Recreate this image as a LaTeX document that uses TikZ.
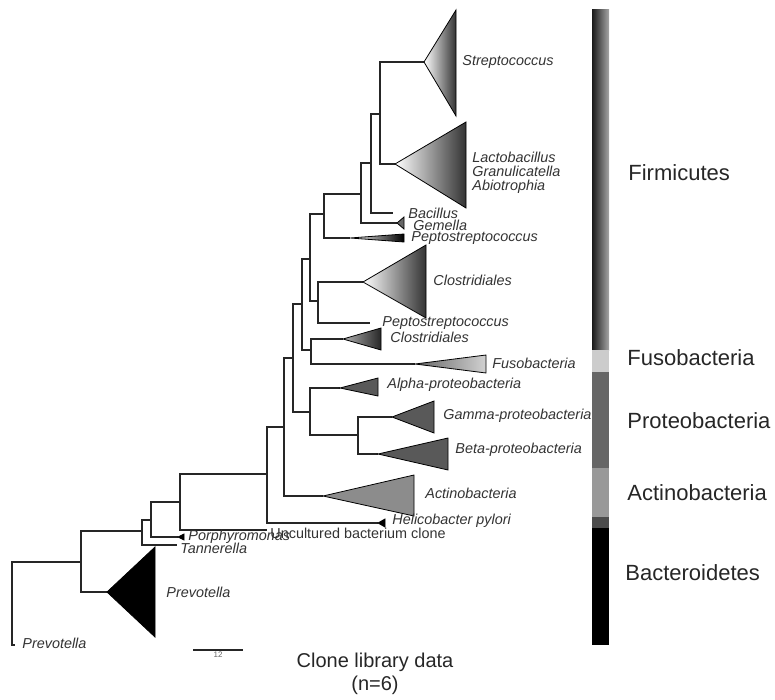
\documentclass[tikz,border=0pt]{standalone}
\usepackage{fontspec}
\setmainfont{Liberation Sans}
\usetikzlibrary{positioning}

\begin{document}
\begin{tikzpicture}[x=0.5pt,y=-0.5pt]
			\tikzstyle{Branch}	= [draw=black!85, line width=0.75pt]
			\tikzstyle{Clade}	= [draw=black, line width=0.4pt]
			\tikzstyle{Light}	= [Clade, left color=white, right color=black!80]
			\tikzstyle{Taxon}	= [anchor=west, inner sep=0pt, text=black!80, font=\fontsize{7.2}{7}\selectfont\itshape]
			\tikzstyle{Phylum}	= [anchor=west, inner sep=0pt, text=black!85, font=\fontsize{11}{13}\selectfont]

			\useasboundingbox (0,0) rectangle (775,700);

			% inner nodes of the tree
			\coordinate (root) at (12,603);
			\coordinate (nQ) at (81,562);
			\coordinate (nP) at (142,531);
			\coordinate (nO) at (151,520);
			\coordinate (nN) at (180,502);
			\coordinate (nM) at (267,474);
			\coordinate (nL) at (284,427);
			\coordinate (nK) at (293,358);
			\coordinate (nJ) at (310,412);
			\coordinate (nI) at (358,435);
			\coordinate (nH) at (302,304);
			\coordinate (nG) at (311,350);
			\coordinate (nF) at (310,259);
			\coordinate (nE) at (318,301);
			\coordinate (nD) at (324,214);
			\coordinate (nC) at (361,194);
			\coordinate (nB) at (371,163);
			\coordinate (nA) at (380,114);

			% tips
			\coordinate (strep) at (424,62);
			\coordinate (lacto) at (395,164);
			\coordinate (bacil) at (393,213);
			\coordinate (gemel) at (397,223);
			\coordinate (pepto) at (350,238);
			\coordinate (clost) at (363,282);
			\coordinate (pepcl) at (370,323);
			\coordinate (clos2) at (343,339);
			\coordinate (fuso) at (415,364);
			\coordinate (alpha) at (340,388);
			\coordinate (gamma) at (392,417);
			\coordinate (beta) at (378,454);
			\coordinate (actino) at (323,496);
			\coordinate (helico) at (378,523);
			\coordinate (uncult) at (267,530);
			\coordinate (porph) at (178,537);
			\coordinate (tanner) at (177,545);
			\coordinate (prevA) at (107,592);
			\coordinate (prevB) at (15,645);

			\draw [Branch] (root) |- (nQ);
			\draw [Branch] (root) |- (prevB);
			\draw [Branch] (nQ) |- (nP);
			\draw [Branch] (nQ) |- (prevA);
			\draw [Branch] (nP) |- (nO);
			\draw [Branch] (nP) |- (tanner);
			\draw [Branch] (nO) |- (nN);
			\draw [Branch] (nO) |- (porph);
			\draw [Branch] (nN) |- (nM);
			\draw [Branch] (nN) |- (uncult);
			\draw [Branch] (nM) |- (nL);
			\draw [Branch] (nM) |- (helico);
			\draw [Branch] (nL) |- (nK);
			\draw [Branch] (nL) |- (actino);
			\draw [Branch] (nK) |- (nH);
			\draw [Branch] (nK) |- (nJ);
			\draw [Branch] (nJ) |- (alpha);
			\draw [Branch] (nJ) |- (nI);
			\draw [Branch] (nI) |- (gamma);
			\draw [Branch] (nI) |- (beta);
			\draw [Branch] (nH) |- (nF);
			\draw [Branch] (nH) |- (nG);
			\draw [Branch] (nG) |- (clos2);
			\draw [Branch] (nG) |- (fuso);
			\draw [Branch] (nF) |- (nD);
			\draw [Branch] (nF) |- (nE);
			\draw [Branch] (nE) |- (clost);
			\draw [Branch] (nE) |- (pepcl);
			\draw [Branch] (nD) |- (nC);
			\draw [Branch] (nD) |- (pepto);
			\draw [Branch] (nC) |- (nB);
			\draw [Branch] (nC) |- (gemel);
			\draw [Branch] (nB) |- (nA);
			\draw [Branch] (nB) |- (bacil);
			\draw [Branch] (nA) |- (strep);
			\draw [Branch] (nA) |- (lacto);

			% collapsed clades
			\shade [Light] (strep) -- (456,10) -- (456,116) -- cycle;
			\shade [Light] (lacto) -- (466,122) -- (466,208) -- cycle;
			\filldraw [Clade, fill=black!60] (gemel) -- (404,217) -- (404,229) -- cycle;
			\shade [Light, right color=black] (pepto) -- (404,234) -- (404,242) -- cycle;
			\shade [Light] (clost) -- (426,245) -- (426,318) -- cycle;
			\shade [Light, left color=black!30, right color=black!85] (clos2) -- (381,328) -- (381,350) -- cycle;
			\shade [Clade, left color=black!60, middle color=black!22, right color=black!18] (fuso) -- (486,355) -- (486,373) -- cycle;
			\filldraw [Clade, fill=black!65] (alpha) -- (378,378) -- (378,396) -- cycle;
			\filldraw [Clade, fill=black!65] (gamma) -- (434,401) -- (434,433) -- cycle;
			\filldraw [Clade, fill=black!65] (beta) -- (448,438) -- (448,470) -- cycle;
			\filldraw [Clade, fill=black!45] (actino) -- (414,475) -- (414,516) -- cycle;
			\filldraw [Clade, fill=black] (prevA) -- (155,547) -- (155,637) -- cycle;
			\filldraw [Clade, fill=black] (helico) -- (385,519) -- (385,527) -- cycle;
			\filldraw [Clade, fill=black] (porph) -- (184,534) -- (184,540) -- cycle;

			\node (tStrep) at (462,62) [Taxon] {Streptococcus};
			\node (tLacto) at (472,173) [Taxon, align=left] {Lactobacillus\\Granulicatella\\Abiotrophia};
			\node (tBacil) at (408,213) [Taxon] {Bacillus};
			\node (tGemel) at (413,225) [Taxon] {Gemella};
			\node (tPepto) at (411,238) [Taxon] {Peptostreptococcus};
			\node (tClost) at (433,280) [Taxon] {Clostridiales};
			\node (tPepcl) at (382,323) [Taxon] {Peptostreptococcus};
			\node (tClos2) at (390,337) [Taxon] {Clostridiales};
			\node (tFuso) at (492,363) [Taxon] {Fusobacteria};
			\node (tAlpha) at (387,385) [Taxon] {Alpha-proteobacteria};
			\node (tGamma) at (443,416) [Taxon] {Gamma-proteobacteria};
			\node (tBeta) at (455,450) [Taxon] {Beta-proteobacteria};
			\node (tActino) at (425,493) [Taxon] {Actinobacteria};
			\node (tHelico) at (392,521) [Taxon] {Helicobacter pylori};
			\node (tUncult) at (270,533) [Taxon, font=\fontsize{7.2}{7}\selectfont] {Uncultured bacterium clone};
			\node (tPorph) at (188,537) [Taxon] {Porphyromonas};
			\node (tTanner) at (180,548) [Taxon] {Tannerella};
			\node (tPrevA) at (166,592) [Taxon] {Prevotella};
			\node (tPrevB) at (22,643) [Taxon] {Prevotella};

			% phylum bar
			\shade [left color=black!90, right color=black!35] (592,10) rectangle (609,350);
			\fill [black!20] (592,350) rectangle (609,372);
			\fill [black!60] (592,372) rectangle (609,468);
			\fill [black!40] (592,468) rectangle (609,517);
			\fill [black!70] (592,517) rectangle (609,528);
			\fill [black] (592,528) rectangle (609,645);

			\node (pFirm) at (628,173) [Phylum] {Firmicutes};
			\node (pFuso) at (627,358) [Phylum] {Fusobacteria};
			\node (pProt) at (627,421) [Phylum] {Proteobacteria};
			\node (pActi) at (627,493) [Phylum] {Actinobacteria};
			\node (pBact) at (625,573) [Phylum] {Bacteroidetes};

			% scale bar
			\coordinate (sbL) at (193,650);
			\coordinate (sbR) at (243,650);
			\draw [Branch] (sbL) -- (sbR) coordinate [midway] (sbMid);
			\node (sbLbl) [below=1pt of sbMid, inner sep=0pt, text=black!60, font=\fontsize{4}{4}\selectfont] {12};

			\node (caption) at (375,674) [align=center, text=black!85, font=\fontsize{10}{11.5}\selectfont] {Clone library data\\(n=6)};

		\end{tikzpicture}
\end{document}
